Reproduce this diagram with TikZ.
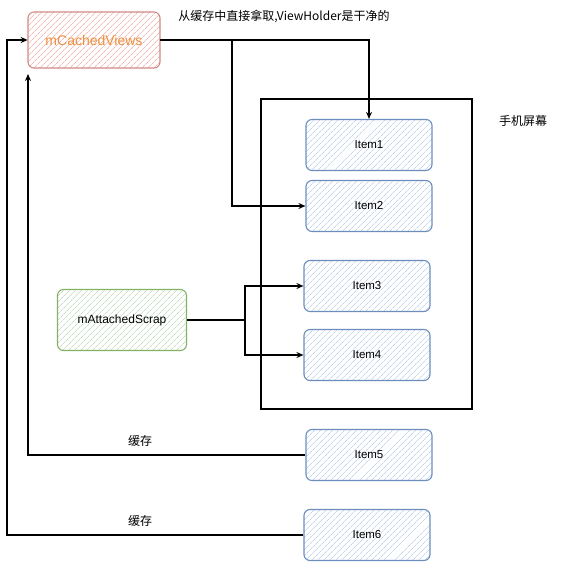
\documentclass[tikz,border=0pt]{standalone}
\usepackage{fontspec}
\setmainfont{Liberation Sans}
\newfontfamily\cjk{Noto Sans CJK SC}
\usetikzlibrary{arrows.meta,patterns.meta}
\definecolor{redfill}{HTML}{F3B9B6}
\definecolor{redline}{HTML}{D08A86}
\definecolor{bluefill}{HTML}{C5D6EE}
\definecolor{blueline}{HTML}{6C8EBF}
\definecolor{greenfill}{HTML}{C9DEC7}
\definecolor{greenline}{HTML}{82B366}
\definecolor{orangetxt}{HTML}{F08E3C}
\tikzset{
  hatch/.style={pattern={Lines[angle=45,distance=4pt,line width=0.7pt]}},
  box/.style={rounded corners=6pt, line width=1.1pt, inner sep=0pt, hatch, font=\fontsize{11.5}{13}\selectfont},
  itembox/.style={box, draw=blueline, pattern color=bluefill, minimum width=126pt, minimum height=51pt},
  redbox/.style={box, draw=redline, pattern color=redfill, minimum width=132pt, minimum height=56pt, text=orangetxt, font=\fontsize{14}{16}\selectfont},
  greenbox/.style={box, draw=greenline, pattern color=greenfill, minimum width=129pt, minimum height=61pt, font=\fontsize{12}{14}\selectfont},
  arr/.style={-{Stealth[open,length=7pt,width=6pt]}, line width=1.1pt},
  ln/.style={line width=1.1pt},
  lbl/.style={font=\cjk\fontsize{12}{14}\selectfont, inner sep=0pt}
}
\begin{document}
\begin{tikzpicture}[x=1pt,y=-1pt]
\useasboundingbox[fill=white] (0,0) rectangle (577,561);
% screen
\draw[line width=1.2pt] (261,99) rectangle (472,409);
\node[lbl] (screenlbl) at (523,121) {手机屏幕};
\node[lbl] (toplbl) at (284,16) {从缓存中直接拿取,ViewHolder是干净的};
% nodes
\node[redbox] (cv) at (94,40) {mCachedViews};
\node[itembox] (i1) at (369,145) {Item1};
\node[itembox] (i2) at (369,206) {Item2};
\node[itembox] (i3) at (367,286) {Item3};
\node[itembox] (i4) at (367,355) {Item4};
\node[itembox] (i5) at (369,455) {Item5};
\node[itembox] (i6) at (367,535) {Item6};
\node[greenbox] (as) at (122,320) {mAttachedScrap};
% junctions
\coordinate (j1) at (232,40);
\coordinate (j2) at (245,320);
\coordinate (c5) at (28,74);
\coordinate (c6) at (7,535);
% connectors
\draw[arr] (cv.east) -| (i1.north);
\draw[arr] (j1) |- (i2.west);
\draw[ln] (as.east) -- (j2);
\draw[arr] (j2) |- (i3.west);
\draw[arr] (j2) |- (i4.west);
\draw[arr] (i5.west) -| (c5);
\draw[arr] (i6.west) -- (c6) |- (cv.west);
% labels
\node[lbl] (l5) at (140,441) {缓存};
\node[lbl] (l6) at (140,521) {缓存};
\end{tikzpicture}
\end{document}
